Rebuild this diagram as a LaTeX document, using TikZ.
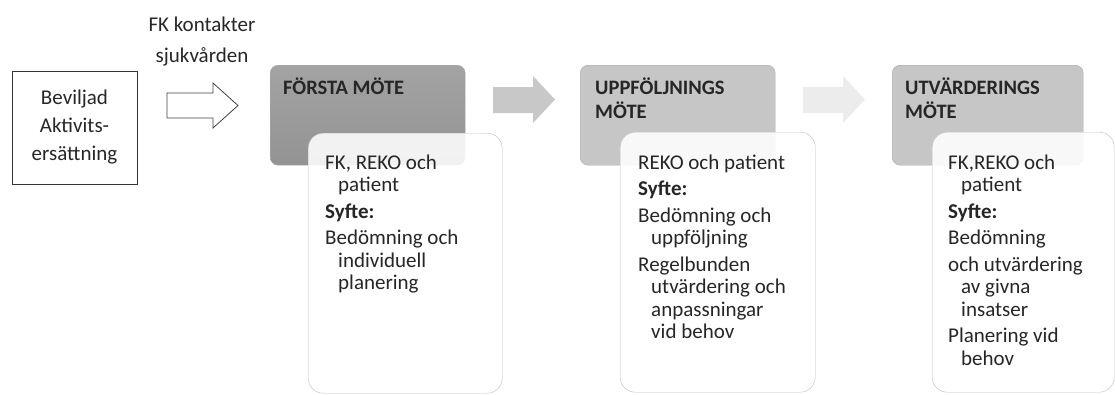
\documentclass[tikz,border=0pt]{standalone}
\usepackage{fontspec}
\setmainfont{Carlito}
\definecolor{headdark}{HTML}{9B9B9B}
\definecolor{headlight}{HTML}{C6C6C6}
\definecolor{arrowmid}{HTML}{C8C8C8}
\definecolor{arrowpale}{HTML}{ECECEC}
\definecolor{boxline}{HTML}{BDBDBD}
\newcommand{\ind}{\hspace*{13pt}}
\begin{document}
\begin{tikzpicture}[x=1pt,y=-1pt,
    headbox/.style={draw=boxline!90!black, rounded corners=8pt, anchor=north west,
        minimum width=195pt, minimum height=100pt, inner sep=0pt},
    infobox/.style={draw=boxline, fill=white, fill opacity=0.88, text opacity=1,
        rounded corners=15pt, anchor=north west, minimum height=260pt, inner sep=0pt},
    headtext/.style={anchor=north west, inner sep=0pt, align=left,
        font=\fontsize{20.5}{24}\selectfont\bfseries, text=black!85},
    bodytext/.style={anchor=north west, inner sep=0pt, align=left,
        font=\fontsize{21}{22.5}\selectfont, text=black!85}]
    \useasboundingbox (0,0) rectangle (1115,394);

   %START
    \node[draw=black!80, minimum width=125pt, minimum height=113pt, align=center,
        font=\fontsize{21}{28}\selectfont, text=black!85] (start) at (74.5,127.5)
        {Beviljad\\Aktivits-\\ersättning};
    \node[align=center, font=\fontsize{21}{31}\selectfont, text=black!85] (contact) at (202,42)
        {FK kontakter\\sjukvården};
    \draw[black!75, line width=0.8pt] (167,93) -- (213,93) -- (213,83) -- (238,105.5)
        -- (213,128) -- (213,118) -- (167,118) -- cycle;

   %FIRST MEETING
    \node[headbox, top color=headdark!92!white, bottom color=headdark!95!black] (head1) at (270,65) {};
    \node[infobox, minimum width=194pt] (info1) at (308,133) {};
    \node[headtext] (title1) at (283,78) {FÖRSTA MÖTE};
    \node[bodytext] (text1) at (325,154.5)
        {FK, REKO och\\\ind patient\\[4pt]\textbf{Syfte:}\\[4pt]Bedömning och\\\ind individuell\\\ind planering};

    \fill[arrowmid] (493,87) -- (533,87) -- (533,76) -- (555,99.5) -- (533,123) -- (533,113) -- (493,113) -- cycle;

   %FOLLOW-UP MEETING
    \node[headbox, fill=headlight] (head2) at (580,65) {};
    \node[infobox, minimum width=195pt] (info2) at (620,132) {};
    \node[headtext] (title2) at (595,78) {UPPFÖLJNINGS\\MÖTE};
    \node[bodytext] (text2) at (638,154.5)
        {REKO och patient\\[4pt]\textbf{Syfte:}\\[4pt]Bedömning och\\\ind uppföljning\\[4pt]Regelbunden\\\ind utvärdering och\\\ind anpassningar\\\ind vid behov};

    \fill[arrowpale] (803,87) -- (843,87) -- (843,76) -- (865,99.5) -- (843,123) -- (843,113) -- (803,113) -- cycle;

   %EVALUATION MEETING
    \node[headbox, fill=headlight, minimum width=191pt] (head3) at (892,65) {};
    \node[infobox, minimum width=182pt] (info3) at (932,132) {};
    \node[headtext] (title3) at (905,78) {UTVÄRDERINGS\\MÖTE};
    \node[bodytext] (text3) at (948,154.5)
        {FK,REKO och\\\ind patient\\[4pt]\textbf{Syfte:}\\[4pt]Bedömning\\[4pt]och utvärdering\\\ind av givna\\\ind insatser\\[4pt]Planering vid\\\ind behov};

 \end{tikzpicture}
\end{document}
